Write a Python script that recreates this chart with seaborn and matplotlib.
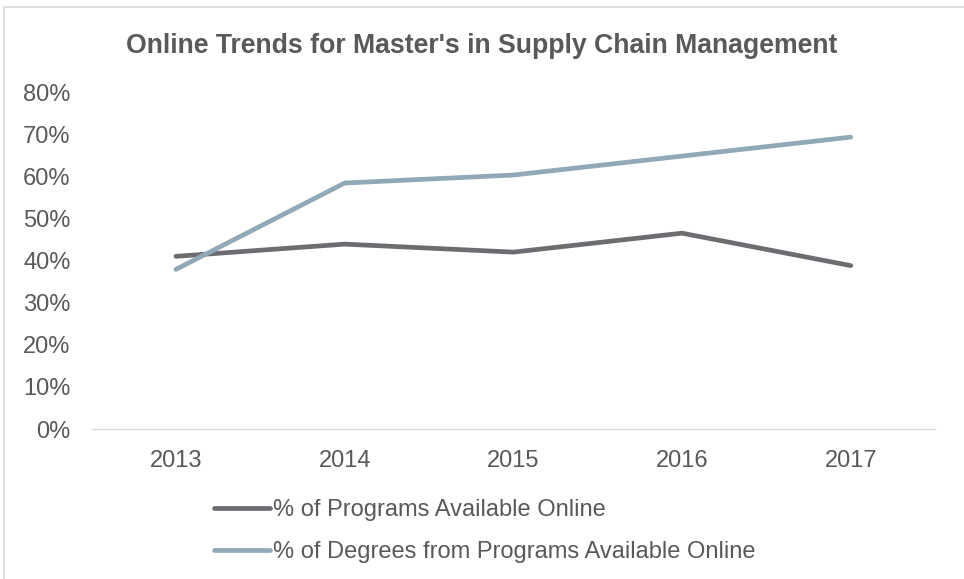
import pandas as pd
import matplotlib.pyplot as plt
import seaborn as sns
from matplotlib.patches import Rectangle
from matplotlib.ticker import PercentFormatter

years = ['2013', '2014', '2015', '2016', '2017']
programs_online = [41.0, 43.9, 42.0, 46.5, 38.8]
degrees_online = [37.9, 58.4, 60.3, 64.8, 69.3]
series_names = ['% of Programs Available Online',
                '% of Degrees from Programs Available Online']
colors = ['#6e6c71', '#90a8b8']

df = pd.DataFrame({
    'year': years * 2,
    'value': programs_online + degrees_online,
    'series': [series_names[0]] * 5 + [series_names[1]] * 5,
})

sns.set_theme(style='white')
plt.rcParams['font.family'] = ['Liberation Sans', 'DejaVu Sans']
text_color = '#595959'

fig = plt.figure(figsize=(9.64, 5.79), dpi=100)
ax = fig.add_axes([0.095, 0.259, 0.875, 0.582])

sns.lineplot(data=df, x='year', y='value', hue='series', palette=colors,
             linewidth=3.4, ax=ax, legend=False, sort=False)
for line in ax.get_lines():
    line.set_solid_capstyle('round')
    line.set_solid_joinstyle('round')

ax.set_xlim(-0.5, 4.5)
ax.set_ylim(0, 80)
ax.set_yticks(range(0, 81, 10))
ax.yaxis.set_major_formatter(PercentFormatter(decimals=0))
ax.set_xlabel('')
ax.set_ylabel('')
ax.tick_params(axis='both', length=0, labelsize=17, labelcolor=text_color)
ax.tick_params(axis='y', pad=15)
ax.tick_params(axis='x', pad=15)
for side in ['top', 'right', 'left']:
    ax.spines[side].set_visible(False)
ax.spines['bottom'].set_color('#d9d9d9')
ax.spines['bottom'].set_linewidth(1)

fig.text(0.5, 0.921, "Online Trends for Master's in Supply Chain Management",
         ha='center', va='center', fontsize=19.2, fontweight='bold', color=text_color)

# legend below the chart, stacked
handles = [plt.Line2D([], [], color=c, linewidth=3.4, solid_capstyle='round') for c in colors]
leg = fig.legend(handles, series_names, loc='upper left', bbox_to_anchor=(0.212, 0.154),
                 frameon=False, fontsize=17, labelcolor=text_color, handlelength=2.4,
                 handletextpad=0.1, labelspacing=0.85, borderaxespad=0)

fig.patches.append(Rectangle((0.004, -0.01), 1.1, 0.998, transform=fig.transFigure,
                             fill=False, edgecolor='#d9d9d9', linewidth=1.2))

fig.savefig('out.png', dpi=100)
